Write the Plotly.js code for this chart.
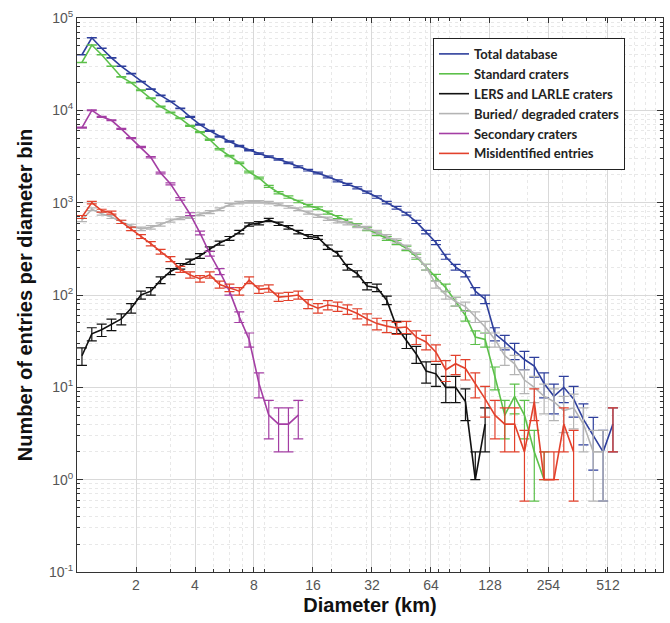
<!DOCTYPE html>
<html>
<head>
<meta charset="utf-8">
<script src="https://cdn.plot.ly/plotly-3.0.1.min.js"></script>
<style>html,body{margin:0;padding:0;background:#fff;}#chart{width:670px;height:623px;}</style>
</head>
<body>
<div id="chart"></div>
<script>
// Bin centre diameters (km)
var diameters = [1.060,1.190,1.336,1.499,1.683,1.889,2.120,2.380,2.671,2.998,
  3.365,3.777,4.240,4.759,5.342,5.996,6.730,7.555,8.480,9.518,
  10.68,11.99,13.46,15.11,16.96,19.04,21.37,23.98,26.92,30.22,
  33.92,38.07,42.73,47.97,53.84,60.44,67.84,76.15,85.47,95.94,
  107.7,120.9,135.7,152.3,170.9,191.9,215.4,241.8,271.3,304.6,
  341.9,383.8,430.8,483.5,542.7];

var totalDatabase = [40000,61000,47000,37000,30000,25000,20500,17000,14500,12500,
  10500,8500,7000,6000,5200,4600,4100,3700,3400,3150,
  2950,2700,2450,2250,2100,1900,1720,1580,1450,1300,
  1150,1000,880,760,620,480,370,260,200,170,
  110,90,38,31,25,20,17,11,8,10,
  7.5,4.5,3,2,4];

var standardCraters = [33000,51000,40000,30000,23000,20000,16500,13500,11000,9500,
  8200,6800,5800,4800,3800,3200,2700,2150,1850,1500,
  1280,1150,1030,930,870,780,700,640,570,520,
  460,410,370,320,260,200,155,120,85,60,
  35,33,13,5,8,5,2,1];

var lersLarle = [22,38,42,48,55,72,100,110,145,180,
  205,230,265,315,365,410,480,580,600,650,
  590,540,480,430,420,330,280,200,170,125,
  120,88,45,32,23,15,14,10,10,7,
  1,4];

var buriedDegraded = [650,850,760,700,620,560,520,540,580,640,
  680,700,750,790,850,950,1000,1020,1020,1000,
  960,900,850,780,720,670,630,600,560,530,
  480,430,385,330,270,200,130,100,85,75,
  58,45,33,22,18,12,10,8,7,5.6,
  6,4,2,2];

var secondaryCraters = [6500,10000,8500,7800,6300,5000,4000,3100,2100,1600,
  1100,750,470,280,180,110,58,33,11,5,
  4,4,5];

var misidentified = [700,1000,820,780,620,520,430,360,295,245,
  190,165,150,165,130,120,110,145,115,118,
  95,97,100,80,72,78,75,70,63,55,
  49,46,44,45,35,31,24,15.5,18,16,
  11,7.5,5,4,4,2,7,1,1,4,
  2,null,null,null,4];

var seriesNames = ["Total database","Standard craters","LERS and LARLE craters",
  "Buried/ degraded craters","Secondary craters","Misidentified entries"];
var seriesColors = ["#2e3f9c","#5cc04a","#111111","#b4b4b4","#a43ea4","#e2412c"];
var seriesValues = [totalDatabase, standardCraters, lersLarle, buriedDegraded, secondaryCraters, misidentified];

var xTickVals = [2,4,8,16,32,64,128,254,512];
var xTickText = ["2","4","8","16","32","64","128","254","512"];
var yTickVals = [0.1,1,10,100,1000,10000,100000];
var yTickText = ["10<sup>-1</sup>","10<sup>0</sup>","10<sup>1</sup>","10<sup>2</sup>","10<sup>3</sup>","10<sup>4</sup>","10<sup>5</sup>"];

// Poisson counting error (sqrt N)
function errPlus(vals){ return vals.map(function(v){ return v==null?null:Math.sqrt(v); }); }
function errMinus(vals){ return vals.map(function(v){ if(v==null) return null; var e=Math.sqrt(v); return e>=v?0:e; }); }

var traces = seriesValues.map(function(vals, i){
  return {
    type: 'scatter', mode: 'lines',
    name: seriesNames[i],
    x: diameters.slice(0, vals.length),
    y: vals,
    line: {color: seriesColors[i], width: 1.6},
    error_y: {type:'data', symmetric:false, array: errPlus(vals), arrayminus: errMinus(vals),
      color: seriesColors[i], thickness: 1.2, width: 5, visible: true},
    connectgaps: false
  };
});

function logMinor(decades){
  var out = [];
  decades.forEach(function(dec){ for(var m=2;m<=9;m++){ out.push(m*dec); } });
  return out;
}
var minorX = logMinor([1,10,100]);
var minorY = logMinor([0.1,1,10,100,1000,10000]);

var layout = {
  width: 670, height: 623,
  margin: {l: 77, r: 7, t: 18, b: 51},
  paper_bgcolor: '#ffffff', plot_bgcolor: '#ffffff',
  showlegend: true,
  font: {family: 'Liberation Sans, Arial, sans-serif', color: '#555'},
  xaxis: {
    type: 'log', range: [0, 2.99],
    tickmode: 'array', tickvals: xTickVals, ticktext: xTickText,
    tickfont: {size: 14, color: '#555'},
    ticks: 'inside', ticklen: 5, tickcolor: '#333',
    showline: true, linecolor: '#333', linewidth: 1, mirror: 'allticks',
    showgrid: true, gridcolor: '#d9d9d9', gridwidth: 1,
    minor: {tickmode: 'array', tickvals: minorX, ticks: 'inside', ticklen: 3, tickcolor: '#333',
      showgrid: true, gridcolor: '#e8e8e8', griddash: 'dot'},
    zeroline: false,
    title: {text: 'Diameter (km)', font: {size: 20, color: '#111', family: 'Liberation Sans, Arial, sans-serif', weight: 'bold'}, standoff: 6}
  },
  yaxis: {
    type: 'log', range: [-1, 5],
    tickmode: 'array', tickvals: yTickVals, ticktext: yTickText,
    tickfont: {size: 14, color: '#555'},
    ticks: 'inside', ticklen: 6, tickcolor: '#333',
    showline: true, linecolor: '#333', linewidth: 1, mirror: 'allticks',
    showgrid: true, gridcolor: '#d9d9d9', gridwidth: 1,
    minor: {tickmode: 'array', tickvals: minorY, ticks: 'inside', ticklen: 3, tickcolor: '#333',
      showgrid: true, gridcolor: '#e8e8e8', griddash: 'dot'},
    zeroline: false,
    title: {text: 'Number of entries per diameter bin', font: {size: 20, color: '#111', family: 'Liberation Sans, Arial, sans-serif', weight: 'bold'}, standoff: 10}
  },
  legend: {
    x: 0.6075, y: 0.964, xanchor: 'left', yanchor: 'top',
    bgcolor: '#ffffff', bordercolor: '#222', borderwidth: 1,
    font: {family: 'Liberation Sans Narrow, Lato, sans-serif', size: 13, color: '#222', weight: 'bold'},
    tracegroupgap: 0, itemwidth: 30
  }
};

Plotly.newPlot('chart', traces, layout, {displayModeBar: false, staticPlot: true});
</script>
</body>
</html>
